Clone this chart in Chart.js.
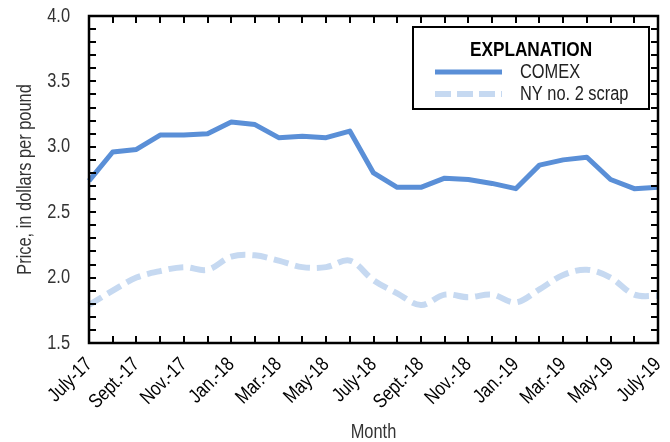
<!DOCTYPE html>
<html>
<head>
<meta charset="utf-8">
<script src="https://cdn.jsdelivr.net/npm/chart.js@4/dist/chart.umd.min.js"></script>
<style>
html,body{margin:0;padding:0;background:#fff;}
#wrap{width:670px;height:442px;position:relative;}
</style>
</head>
<body>
<div id="wrap"><canvas id="c" width="670" height="442"></canvas></div>
<script>
const months = ['July-17','Aug.-17','Sept.-17','Oct.-17','Nov.-17','Dec.-17','Jan.-18','Feb.-18','Mar.-18','Apr.-18','May-18','June-18','July-18','Aug.-18','Sept.-18','Oct.-18','Nov.-18','Dec.-18','Jan.-19','Feb.-19','Mar.-19','Apr.-19','May-19','June-19','July-19'];
const tickLabels = ['July-17','Sept.-17','Nov.-17','Jan.-18','Mar.-18','May-18','July-18','Sept.-18','Nov.-18','Jan.-19','Mar.-19','May-19','July-19'];
const comex = [2.74,2.96,2.98,3.09,3.09,3.10,3.19,3.17,3.07,3.08,3.07,3.12,2.80,2.69,2.69,2.76,2.75,2.72,2.68,2.86,2.90,2.92,2.75,2.68,2.69];
const nyScrap = [1.79,1.90,2.00,2.05,2.08,2.06,2.16,2.17,2.13,2.08,2.08,2.13,1.98,1.88,1.79,1.87,1.85,1.87,1.81,1.91,2.02,2.06,2.00,1.87,1.86];
const yTicks = [1.5,2.0,2.5,3.0,3.5,4.0];
const seriesNames = ['COMEX','NY no. 2 scrap'];
const legendTitle = 'EXPLANATION';

// Narrow text: draw the Arial-metric font horizontally condensed (Arial Narrow look)
const SX = 0.82;
(function () {
  const P = CanvasRenderingContext2D.prototype;
  const of = P.fillText, om = P.measureText;
  P.fillText = function (t, x, y, mw) {
    this.save();
    this.translate(x, y);
    this.scale(SX, 1);
    if (mw !== undefined && mw !== null) of.call(this, t, 0, 0, mw / SX); else of.call(this, t, 0, 0);
    this.restore();
  };
  P.measureText = function (t) {
    const m = om.call(this, t);
    return {
      width: m.width * SX,
      actualBoundingBoxLeft: m.actualBoundingBoxLeft * SX,
      actualBoundingBoxRight: m.actualBoundingBoxRight * SX,
      actualBoundingBoxAscent: m.actualBoundingBoxAscent,
      actualBoundingBoxDescent: m.actualBoundingBoxDescent,
      fontBoundingBoxAscent: m.fontBoundingBoxAscent,
      fontBoundingBoxDescent: m.fontBoundingBoxDescent
    };
  };
})();

const FONT = "'Liberation Sans',Arial,sans-serif";
const C1 = '#5a8fd7';
const C2 = '#c6d9f1';

const frame = {
  id: 'frame',
  afterDatasetsDraw(chart) {
    const {ctx, chartArea: a, scales: {x, y}} = chart;
    ctx.save();
    ctx.strokeStyle = '#000';
    ctx.lineWidth = 2;
    for (let k = 15; k <= 40; k++) {
      const py = Math.round(y.getPixelForValue(k / 10));
      ctx.beginPath();
      ctx.moveTo(a.left, py); ctx.lineTo(a.left + 7, py);
      ctx.moveTo(a.right, py); ctx.lineTo(a.right - 7, py);
      ctx.stroke();
    }
    for (let i = 0; i < months.length; i++) {
      const px = Math.round(x.getPixelForValue(i));
      ctx.beginPath();
      ctx.moveTo(px, a.top); ctx.lineTo(px, a.top + 7);
      ctx.moveTo(px, a.bottom); ctx.lineTo(px, a.bottom - 7);
      ctx.stroke();
    }
    ctx.lineWidth = 2.5;
    ctx.strokeRect(a.left, a.top, a.right - a.left, a.bottom - a.top);
    // legend box
    const bx = 413, by = 27, bw = 236, bh = 82;
    ctx.fillStyle = '#fff';
    ctx.fillRect(bx, by, bw, bh);
    ctx.lineWidth = 2;
    ctx.strokeRect(bx, by, bw, bh);
    ctx.fillStyle = '#000';
    ctx.textBaseline = 'middle';
    ctx.textAlign = 'center';
    ctx.font = "bold 21px " + FONT;
    ctx.fillText(legendTitle, 531, 50);
    ctx.textAlign = 'left';
    ctx.font = "20px " + FONT;
    ctx.fillStyle = '#222';
    ctx.fillText(seriesNames[0], 520, 72);
    ctx.fillText(seriesNames[1], 520, 94);
    ctx.lineWidth = 5;
    ctx.strokeStyle = C1;
    ctx.beginPath(); ctx.moveTo(435, 72); ctx.lineTo(502, 72); ctx.stroke();
    ctx.strokeStyle = C2;
    ctx.lineWidth = 6;
    ctx.setLineDash([16, 6]);
    ctx.beginPath(); ctx.moveTo(435, 94); ctx.lineTo(502, 94); ctx.stroke();
    ctx.restore();
  }
};

function zeroPad(s) { s.paddingTop = 0; s.paddingBottom = 0; s.paddingLeft = 0; s.paddingRight = 0; }

new Chart(document.getElementById('c'), {
  type: 'line',
  data: {
    labels: months,
    datasets: [
      { label: seriesNames[0], data: comex, borderColor: C1, borderWidth: 5, pointRadius: 0, tension: 0, fill: false, borderJoinStyle: 'round' },
      { label: seriesNames[1], data: nyScrap, borderColor: C2, borderWidth: 6, borderDash: [15, 7], pointRadius: 0, tension: 0.35, fill: false }
    ]
  },
  options: {
    responsive: false,
    animation: false,
    devicePixelRatio: 1,
    layout: { padding: { top: 16, right: 12, left: 0, bottom: 0 } },
    plugins: { legend: { display: false }, tooltip: { enabled: false } },
    scales: {
      x: {
        type: 'category',
        offset: false,
        grid: { display: false, drawTicks: false },
        border: { display: false },
        ticks: {
          autoSkip: false,
          maxRotation: 45, minRotation: 45,
          padding: 10,
          color: '#000',
          font: { family: FONT, size: 20 },
          callback: function (v, i) { return (i % 2 === 0) ? tickLabels[i / 2] : null; }
        },
        title: { display: true, text: 'Month', color: '#333', font: { family: FONT, size: 20 }, padding: { top: 0, bottom: -2 } },
        afterFit(s) { s.height = 99; zeroPad(s); }
      },
      y: {
        min: 1.5, max: 4.0,
        grid: { display: false, drawTicks: false },
        border: { display: false },
        afterBuildTicks(s) { s.ticks = yTicks.map(v => ({ value: v })); },
        ticks: {
          padding: 19,
          color: '#333',
          font: { family: FONT, size: 20 },
          callback: v => Number(v).toFixed(1)
        },
        title: { display: true, text: 'Price, in dollars per pound', color: '#333', font: { family: FONT, size: 20 }, padding: { top: 13, bottom: 0 } },
        afterFit(s) { s.width = 89; zeroPad(s); }
      }
    }
  },
  plugins: [frame]
});
</script>
</body>
</html>
